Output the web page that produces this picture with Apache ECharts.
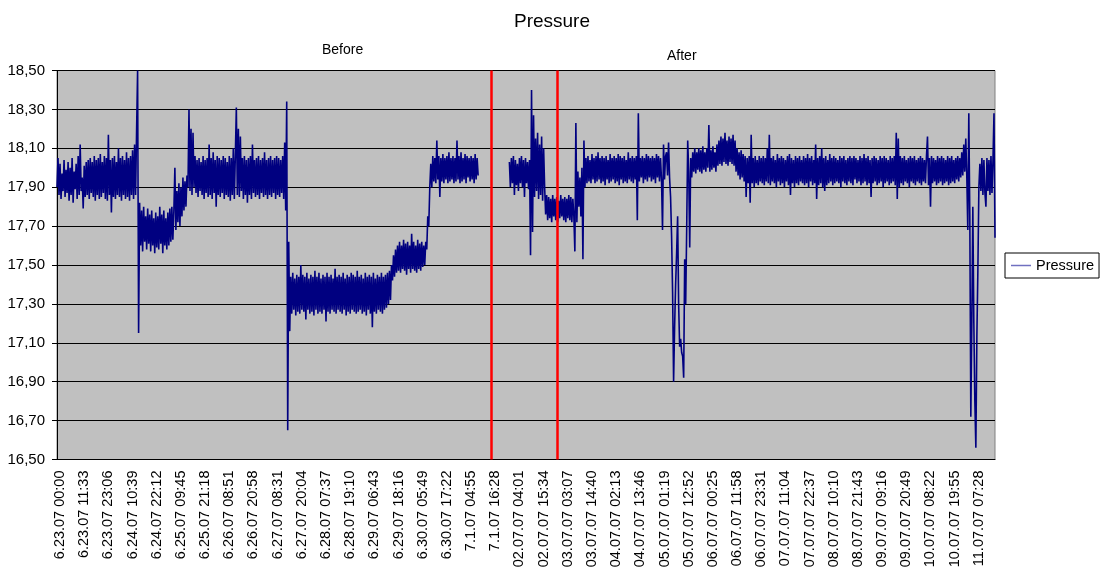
<!DOCTYPE html>
<html>
<head>
<meta charset="utf-8">
<script src="https://cdn.jsdelivr.net/npm/echarts@6/dist/echarts.min.js"></script>
<style>
html,body{margin:0;padding:0;background:#fff;}
#chart{width:1104px;height:572px;}
</style>
</head>
<body>
<div id="chart"></div>
<script>
// Tick labels shown every 24 samples on the category axis
const tickLabels = [
  '6.23.07 00:00','6.23.07 11:33','6.23.07 23:06','6.24.07 10:39','6.24.07 22:12',
  '6.25.07 09:45','6.25.07 21:18','6.26.07 08:51','6.26.07 20:58','6.27.07 08:31',
  '6.27.07 20:04','6.28.07 07:37','6.28.07 19:10','6.29.07 06:43','6.29.07 18:16',
  '6.30.07 05:49','6.30.07 17:22','7.1.07 04:55','7.1.07 16:28',
  '02.07.07 04:01','02.07.07 15:34','03.07.07 03:07','03.07.07 14:40','04.07.07 02:13',
  '04.07.07 13:46','05.07.07 01:19','05.07.07 12:52','06.07.07 00:25','06.07.07 11:58',
  '06.07.07 23:31','07.07.07 11:04','07.07.07 22:37','08.07.07 10:10','08.07.07 21:43',
  '09.07.07 09:16','09.07.07 20:49','10.07.07 08:22','10.07.07 19:55','11.07.07 07:28'
];
const labelStep = 24;

// Pressure readings before the change
const pressureBefore = [
17.90,18.05,17.86,18.02,17.84,17.97,17.88,18.04,17.85,17.99,
17.87,18.03,17.83,18.00,17.86,18.05,17.82,17.98,17.89,18.02,
17.84,18.06,17.86,18.12,17.88,17.95,17.79,18.01,17.85,18.03,
17.86,18.04,17.84,18.05,17.87,18.03,17.85,18.06,17.83,18.04,
17.86,18.05,17.84,18.07,17.85,18.03,17.87,18.06,17.84,18.05,
17.83,18.17,17.86,18.04,17.77,18.05,17.85,18.06,17.84,18.03,
17.86,18.10,17.85,18.05,17.83,18.06,17.86,18.04,17.84,18.08,
17.85,18.05,17.83,18.06,17.86,18.09,17.84,18.12,17.86,18.19,
18.50,17.15,17.82,17.60,17.78,17.57,17.80,17.62,17.75,17.58,
17.79,17.61,17.76,17.57,17.78,17.60,17.74,17.56,17.77,17.59,
17.75,17.58,17.80,17.61,17.76,17.56,17.78,17.60,17.74,17.58,
17.77,17.60,17.79,17.62,17.80,17.63,17.78,
18.00,17.68,17.88,17.72,17.92,17.70,17.90,17.75,17.95,17.78,17.93,17.80,17.96,
17.90,18.30,
17.88,18.20,17.86,18.18,17.90,18.06,17.87,18.04,
17.85,18.05,17.88,18.03,17.86,18.06,17.84,18.04,17.87,18.05,
17.85,18.12,17.86,18.05,17.84,18.08,17.87,18.04,17.80,18.06,
17.86,18.05,17.85,18.04,17.87,18.06,17.84,18.05,17.86,18.03,
17.85,18.06,17.83,18.05,17.86,18.10,17.84,18.06,18.31,17.86,
18.20,17.85,18.16,17.88,18.05,17.84,18.06,17.86,18.04,17.82,
18.05,17.86,18.06,17.84,18.12,17.87,18.04,17.85,18.05,17.86,
18.06,17.84,18.04,17.87,18.05,17.85,18.08,17.86,18.04,17.84,
18.05,17.86,18.06,17.85,18.04,17.87,18.05,17.84,18.06,17.86,
18.05,17.85,18.04,17.87,18.06,17.84,18.13,17.78,
18.34,16.65,17.62,17.16,
17.44,17.25,17.46,17.27,17.43,17.24,17.45,17.26,
17.44,17.25,17.50,17.27,17.45,17.26,17.44,17.22,17.46,17.27,
17.43,17.25,17.45,17.26,17.44,17.24,17.47,17.27,17.44,17.25,
17.46,17.26,17.43,17.25,17.45,17.27,17.44,17.21,17.46,17.26,
17.44,17.25,17.45,17.27,17.43,17.26,17.48,17.25,17.44,17.27,
17.45,17.26,17.44,17.25,17.46,17.27,17.43,17.24,17.45,17.26,
17.44,17.25,17.46,17.27,17.45,17.26,17.44,17.25,17.47,17.26,
17.44,17.27,17.45,17.25,17.43,17.26,17.46,17.24,17.44,17.27,
17.45,17.25,17.44,17.18,17.46,17.26,17.43,17.25,17.45,17.27,
17.44,17.26,17.46,17.25,17.44,17.27,17.45,17.28,17.46,17.30,
17.47,17.32,17.50,
17.42,17.55,17.44,17.58,17.46,17.60,17.47,
17.62,17.46,17.60,17.48,17.63,17.47,17.61,17.45,17.62,17.48,
17.60,17.46,17.66,17.48,17.62,17.47,17.60,17.46,17.63,17.48,
17.61,17.47,17.62,17.49,17.60,17.50,17.62,
17.58,17.75,17.70,17.90,
18.02,17.90,18.06,17.93,18.05,17.92,18.14,17.94,18.06,
17.85,18.05,17.93,18.07,17.92,18.05,17.94,18.06,17.92,18.08,
17.93,18.05,17.94,18.06,17.92,18.05,17.93,18.14,17.94,18.06,
17.92,18.08,17.93,18.05,17.94,18.07,17.92,18.06,17.95,18.05,
17.93,18.06,17.94,18.05,17.92,18.07,17.94,18.05,17.96
];
// No readings logged between the two series
const pressureGap = [
null,null,null,null,null,null,null,null,null,null,
null,null,null,null,null,null,null,null,null,null,
null,null,null,null,null,null,null,null,null,null
];
// Pressure readings after the change
const pressureAfter = [
18.03,17.90,18.05,17.92,18.06,17.86,18.04,17.91,18.02,17.88,
18.05,17.92,18.06,17.90,18.04,17.85,18.05,17.92,18.03,17.89,18.04,
17.55,18.40,
17.67,18.27,17.85,18.15,17.88,18.18,17.84,18.12,17.86,18.16,17.83,18.10,17.90,
17.76,17.86,17.73,17.85,17.74,
17.84,17.72,17.86,17.75,17.84,17.73,17.85,17.72,17.83,17.74,
17.86,17.75,17.84,17.73,17.85,17.72,17.84,17.74,17.86,17.73,
17.85,17.72,17.84,17.75,
17.57,18.23,
17.72,17.98,17.80,17.95,17.75,18.00,17.53,18.14,
17.90,18.05,17.92,18.06,17.93,18.04,
17.92,18.07,17.94,18.05,17.92,18.06,17.93,18.08,17.94,18.05,
17.92,18.06,17.93,18.05,17.91,18.06,17.94,18.04,17.92,18.07,
17.93,18.05,17.94,18.06,17.92,18.05,17.93,18.07,17.91,18.06,
17.94,18.05,17.92,18.06,17.93,18.04,17.92,18.08,17.94,18.05,
17.93,18.06,17.92,18.05,17.94,18.06,
17.73,18.28,
17.93,18.05,
17.95,18.06,17.92,18.05,17.94,18.07,17.93,18.06,17.95,18.05,
17.93,18.06,17.94,18.05,17.92,18.07,17.95,18.06,17.93,18.05,
17.94,17.68,18.12,17.94,18.06,
18.08,17.96,18.13,17.95,
17.85,17.65,17.36,16.90,17.18,17.40,17.56,17.75,17.30,17.08,
17.12,17.05,17.03,16.92,17.53,17.30,17.69,18.14,17.98,17.59,
18.05,17.95,18.08,
17.98,18.10,17.97,18.08,17.99,18.10,17.98,18.09,
17.97,18.11,17.99,18.08,17.98,18.10,18.00,18.22,17.98,18.09,
17.99,18.11,18.00,18.08,17.98,18.12,18.01,18.14,18.02,18.16,
18.01,18.15,18.03,18.18,18.02,18.14,18.01,18.16,18.03,18.15,
18.02,18.17,18.01,18.14,17.98,18.10,17.96,18.08,17.94,18.09,
17.95,18.07,17.93,18.06,17.85,18.05,17.92,18.06,17.82,
18.17,
17.92,18.05,17.90,18.06,17.92,18.04,17.91,18.06,17.93,18.05,
17.92,18.06,17.91,18.05,17.93,18.10,17.92,18.17,17.91,18.05,
17.93,18.06,17.92,18.04,17.90,18.07,17.93,18.05,17.91,18.06,
17.92,18.05,17.90,18.04,17.93,18.06,17.91,18.07,17.86,18.05,
17.92,18.04,17.90,18.06,17.92,18.05,17.91,18.06,17.93,18.04,
17.92,18.06,17.91,18.05,17.92,18.07,17.90,18.05,17.93,18.06,
17.91,18.04,17.92,18.12,17.84,18.05,17.91,18.06,17.92,18.10,
17.90,18.05,17.88,18.06,17.91,18.04,17.92,18.07,17.93,18.05,
17.91,18.06,17.92,18.05,17.93,18.04,17.92,18.06,17.90,18.05,
17.93,18.06,17.92,18.04,17.91,18.05,17.93,18.06,17.92,18.05,
17.91,18.06,17.94,18.05,17.92,18.04,17.93,18.06,17.91,18.05,
17.92,18.07,17.93,18.05,17.91,18.06,17.92,18.04,17.85,18.05,
17.92,18.06,17.93,18.05,17.91,18.04,17.92,18.06,17.93,18.05,
17.90,18.06,17.92,18.05,17.93,18.04,17.91,18.06,17.92,18.05,
17.93,18.06,17.91,18.18,17.84,18.15,17.90,18.06,17.92,18.05,
17.91,18.06,17.93,18.04,17.92,18.05,17.90,18.06,17.93,18.05,
17.92,18.06,17.91,18.04,17.93,18.05,17.92,18.06,17.91,18.05,
17.93,18.04,17.92,18.06,18.16,17.91,18.05,17.80,18.06,17.92,
18.05,17.93,18.04,17.91,18.06,17.92,18.05,17.93,18.06,17.91,
18.05,17.92,18.04,17.93,18.06,17.91,18.05,17.92,18.06,17.93,
18.04,17.92,18.05,17.94,18.06,17.93,18.05,
17.95,18.08,17.96,18.12,17.98,18.15,17.96,17.68,
18.28,
17.75,16.72,17.20,17.80,17.20,16.80,16.56,17.13,17.47,17.90,
18.02,17.88,18.05,17.86,18.04,17.87,17.80,18.05,17.88,18.04,
17.86,18.06,17.87,18.04,18.28,17.64
];
// Sample positions of the two red change markers
const changeMarks = [431, 497];

const pressure = pressureBefore.concat(pressureGap, pressureAfter);
const categories = pressure.map((_, i) => String(i));

const FONT = "'Liberation Sans', Arial, sans-serif";
const chart = echarts.init(document.getElementById('chart'), null, {renderer: 'canvas'});
chart.setOption({
  animation: false,
  backgroundColor: '#ffffff',
  title: {
    text: 'Pressure', left: 'center', top: 7,
    textStyle: {fontFamily: FONT, fontSize: 19, fontWeight: 'normal', color: '#000'}
  },
  graphic: [
    {type: 'text', left: 322, top: 43, style: {text: 'Before', font: "14px 'Liberation Sans', Arial", fill: '#000'}},
    {type: 'text', left: 667, top: 49, style: {text: 'After', font: "14px 'Liberation Sans', Arial", fill: '#000'}}
  ],
  legend: {
    left: 1005, top: 253, orient: 'vertical',
    backgroundColor: '#fff', borderColor: '#000', borderWidth: 1,
    padding: [5, 5, 5, 6], itemWidth: 20, itemHeight: 1.5, itemGap: 0,
    textStyle: {fontFamily: FONT, fontSize: 14.5, color: '#000'},
    itemStyle: {color: '#7070c0'},
    data: [{name: 'Pressure', icon: 'rect'}]
  },
  grid: {
    left: 57, right: 109, top: 70.5, bottom: 112.5,
    show: true, backgroundColor: '#c0c0c0', borderColor: '#808080', borderWidth: 1
  },
  xAxis: {
    type: 'category', data: categories, boundaryGap: false,
    axisLine: {lineStyle: {color: '#000', width: 1}},
    axisTick: {show: false},
    splitLine: {show: false},
    axisLabel: {
      interval: labelStep - 1, rotate: 90, margin: 11,
      verticalAlign: 'top', lineHeight: 6,
      fontFamily: FONT, fontSize: 14.5, color: '#000',
      formatter: (v, idx) => tickLabels[Math.round(idx / labelStep)] || ''
    }
  },
  yAxis: {
    type: 'value', min: 16.5, max: 18.5, interval: 0.2,
    axisLine: {show: true, lineStyle: {color: '#000', width: 1}},
    axisTick: {show: true, length: 5, lineStyle: {color: '#000'}},
    splitLine: {show: true, lineStyle: {color: '#000', width: 1}},
    axisLabel: {
      fontFamily: FONT, fontSize: 15, color: '#000', margin: 12,
      formatter: v => v.toFixed(2).replace('.', ',')
    }
  },
  series: [{
    name: 'Pressure', type: 'line', data: pressure,
    symbol: 'none', showSymbol: false, connectNulls: false,
    sampling: null,
    lineStyle: {color: '#000080', width: 1.6},
    itemStyle: {color: '#000080'},
    markLine: {
      silent: true, symbol: ['none', 'none'],
      label: {show: false},
      lineStyle: {color: '#ff0000', width: 2.5, type: 'solid'},
      data: changeMarks.map(i => ({xAxis: i}))
    }
  }]
});
</script>
</body>
</html>
